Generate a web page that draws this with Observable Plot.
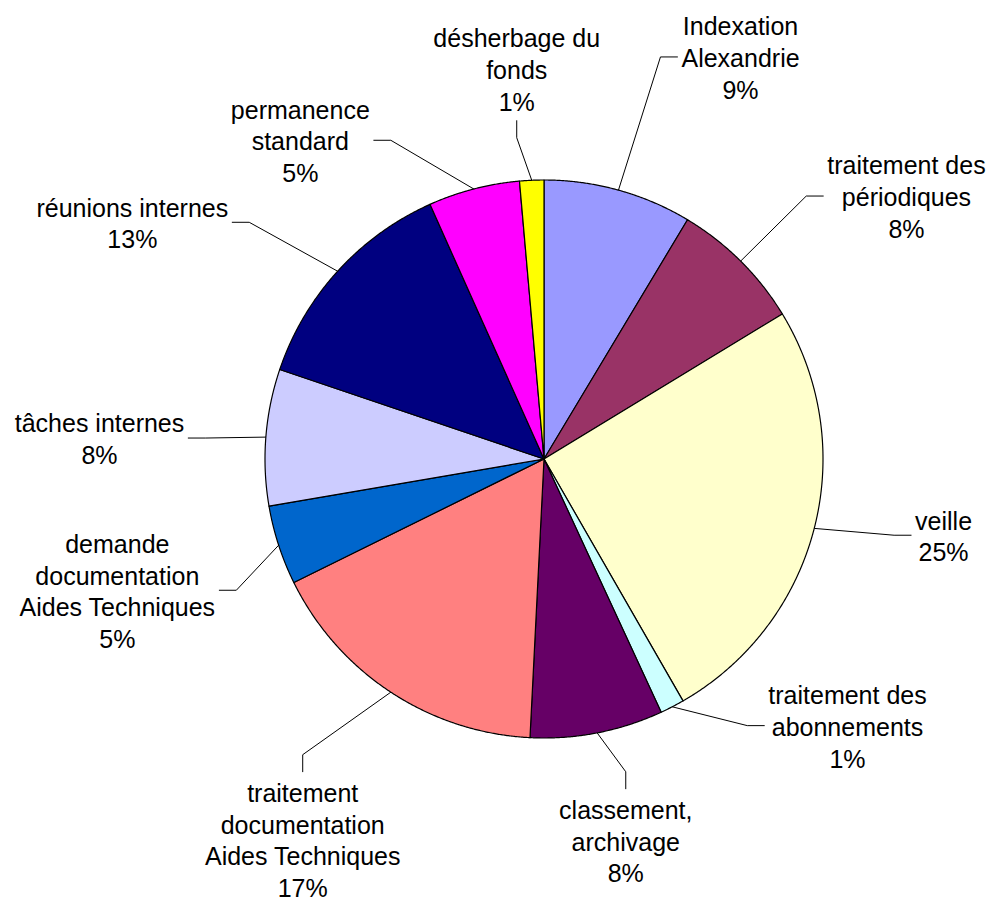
<!DOCTYPE html>
<html>
<head>
<meta charset="utf-8">
<script src="https://cdn.jsdelivr.net/npm/d3@7"></script>
<script src="https://cdn.jsdelivr.net/npm/@observablehq/plot@0.6"></script>
<style>
  html, body { margin: 0; padding: 0; background: #ffffff; }
  #chart svg { display: block; }
</style>
</head>
<body>
<div id="chart"></div>
<script>
// ---- data ----
const categories = [
  "Indexation Alexandrie",
  "traitement des périodiques",
  "veille",
  "traitement des abonnements",
  "classement, archivage",
  "traitement documentation Aides Techniques",
  "demande documentation Aides Techniques",
  "tâches internes",
  "réunions internes",
  "permanence standard",
  "désherbage du fonds"
];
const labelLines = [
  "Indexation\nAlexandrie",
  "traitement des\npériodiques",
  "veille",
  "traitement des\nabonnements",
  "classement,\narchivage",
  "traitement\ndocumentation\nAides Techniques",
  "demande\ndocumentation\nAides Techniques",
  "tâches internes",
  "réunions internes",
  "permanence\nstandard",
  "désherbage du\nfonds"
];
const shares = [8.6, 7.7, 25.4, 1.4, 7.7, 16.9, 4.6, 7.9, 13.1, 5.3, 1.4];
const colors = ["#9999FF", "#993366", "#FFFFCC", "#CCFFFF", "#660066", "#FF8080",
                "#0066CC", "#CCCCFF", "#000080", "#FF00FF", "#FFFF00"];

// ---- label layout (polar, clockwise from 12 o'clock; radius in pie radii) ----
const labelAngle  = [26.05, 54.04, 100.8, 131.3, 167.9, 212.4, 252.9, 272.7, 299.9, 322.6, 356.0];
const labelRadius = [1.604, 1.605, 1.458, 1.448, 1.398, 1.614, 1.600, 1.595, 1.702, 1.438, 1.401];
const labelSide   = ["left", "left", "left", "left", "top", "top", "right", "right", "right", "right", "bottom"];

// ---- geometry ----
const W = 988, H = 902;
const R = 279, CX = 543.5, CY = 458.5;       // pie radius and centre in pixels
const FONT = 25, LINE_H = 1.27;              // px, em
const FONT_FAMILY = "'Liberation Sans', Arial, Helvetica, sans-serif";
const GAP = 4 / R, STUB = 17 / R;

const total = d3.sum(shares);
const rad = (deg) => deg * Math.PI / 180;

let acc = 0;
const slices = categories.map((name, i) => {
  const a0 = acc / total * 2 * Math.PI;
  acc += shares[i];
  const a1 = acc / total * 2 * Math.PI;
  return {name, i, a0, a1, mid: (a0 + a1) / 2, pct: Math.round(shares[i] / total * 100)};
});

// slice polygons in unit (pie-radius) coordinates, y up
const slicePts = slices.flatMap(s => {
  const n = Math.max(2, Math.ceil((s.a1 - s.a0) / rad(0.25)));
  const pts = [{name: s.name, x: 0, y: 0}];
  for (let k = 0; k <= n; k++) {
    const a = s.a0 + (s.a1 - s.a0) * k / n;
    pts.push({name: s.name, x: Math.sin(a), y: Math.cos(a)});
  }
  pts.push({name: s.name, x: 0, y: 0});
  return pts;
});

// text measurement
const ctx = document.createElement("canvas").getContext("2d");
ctx.font = `${FONT}px ${FONT_FAMILY}`;

const labels = slices.map(s => {
  const text = `${labelLines[s.i]}\n${s.pct}%`;
  const lines = text.split("\n");
  const w = d3.max(lines, l => ctx.measureText(l).width) / R;
  const h = lines.length * FONT * LINE_H / R;
  const a = rad(labelAngle[s.i]);
  const x = labelRadius[s.i] * Math.sin(a);
  const y = labelRadius[s.i] * Math.cos(a);
  return {name: s.name, i: s.i, text, x, y, w, h, mid: s.mid};
});

const leaderPts = labels.flatMap(l => {
  const p0 = {x: Math.sin(l.mid), y: Math.cos(l.mid)};
  let end, elbow;
  switch (labelSide[l.i]) {
    case "left":   end = {x: l.x - l.w / 2 - GAP, y: l.y}; elbow = {x: end.x - STUB, y: l.y}; break;
    case "right":  end = {x: l.x + l.w / 2 + GAP, y: l.y}; elbow = {x: end.x + STUB, y: l.y}; break;
    case "bottom": end = {x: l.x, y: l.y - l.h / 2 - GAP}; elbow = {x: l.x, y: end.y - STUB}; break;
    default:       end = {x: l.x, y: l.y + l.h / 2 + GAP}; elbow = {x: l.x, y: end.y + STUB}; break;
  }
  return [p0, elbow, end].map(p => ({name: l.name, ...p}));
});

const chart = Plot.plot({
  width: W,
  height: H,
  margin: 0,
  style: {background: "#ffffff", fontFamily: FONT_FAMILY},
  x: {domain: [-CX / R, (W - CX) / R], axis: null},
  y: {domain: [-(H - CY) / R, CY / R], axis: null},
  color: {domain: categories, range: colors},
  marks: [
    Plot.line(leaderPts, {x: "x", y: "y", z: "name", stroke: "#000000", strokeWidth: 1, curve: "linear"}),
    Plot.line(slicePts, {x: "x", y: "y", z: "name", fill: "name", stroke: "#000000", strokeWidth: 1.2, curve: "linear", strokeLinejoin: "round"}),
    Plot.text(labels, {x: "x", y: "y", text: "text", fontSize: FONT, lineHeight: LINE_H,
      fill: "#000000", textAnchor: "middle", lineAnchor: "middle", fontFamily: FONT_FAMILY})
  ]
});

document.getElementById("chart").appendChild(chart);
</script>
</body>
</html>
